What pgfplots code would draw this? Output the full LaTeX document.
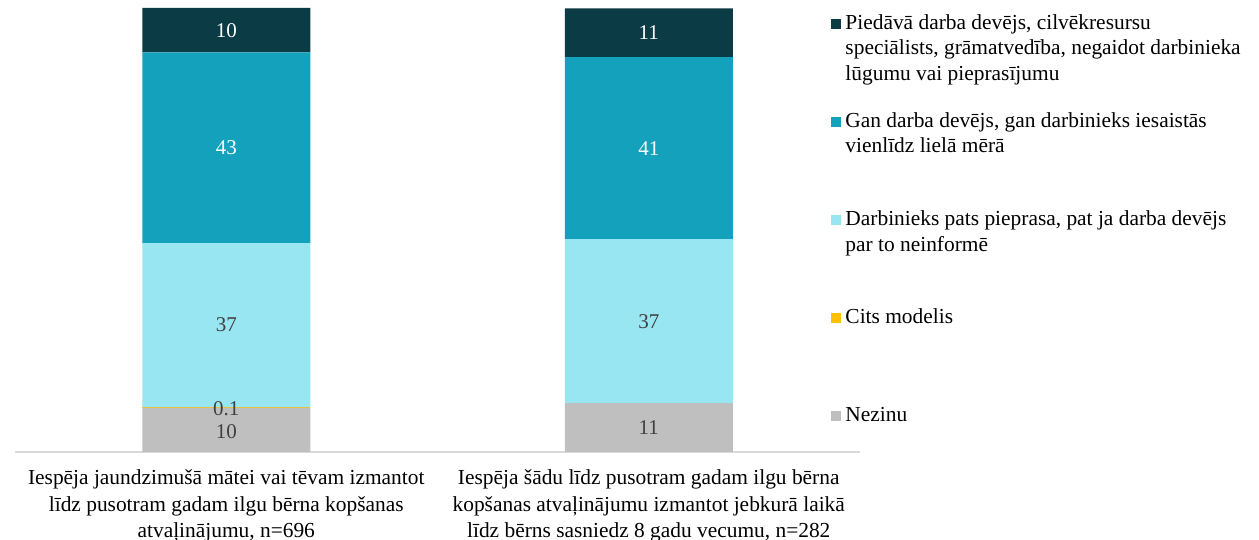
\documentclass[border=0pt]{standalone}
\usepackage{pgfplots}
\pgfplotsset{compat=1.18}
\usepackage{fontspec}
\setmainfont{Liberation Serif}
\definecolor{cDark}{HTML}{0B3C45}
\definecolor{cTeal}{HTML}{13A1BC}
\definecolor{cLight}{HTML}{99E6F3}
\definecolor{cYellow}{HTML}{FFC000}
\definecolor{cGrey}{HTML}{BFBFBF}
\definecolor{cText}{HTML}{404040}
\definecolor{cAxis}{HTML}{D9D9D9}
\pgfplotsset{common/.style={
  scale only axis, width=422.5bp, height=222bp, at={(0,0)}, anchor=south west,
  xmin=-0.5, xmax=1.5, ymin=0, ymax=100.1,
}}
\newcommand{\lent}[1]{\parbox[t]{215bp}{\raggedright #1}}
\begin{document}
\begin{tikzpicture}
\useasboundingbox (-7.5bp,-44bp) rectangle (622bp,226bp);
\begin{axis}[common, ybar stacked, bar width=84bp,
  axis x line*=bottom, hide y axis,
  x axis line style={draw=cAxis, line width=0.7bp, -},
  xtick={0,1}, major tick length=0pt,
  xticklabels={{Iespēja jaundzimušā mātei vai tēvam izmantot\\līdz pusotram gadam ilgu bērna kopšanas\\atvaļinājumu, n=696},{Iespēja šādu līdz pusotram gadam ilgu bērna\\kopšanas atvaļinājumu izmantot jebkurā laikā\\līdz bērns sasniedz 8 gadu vecumu, n=282}},
  xticklabel style={align=center, font=\fontsize{10.7bp}{13.25bp}\selectfont, text=black, yshift=-5.5bp},
  reverse legend,
  legend style={at={(rel axis cs:0.958,1.003)}, anchor=north west, draw=none, fill=none,
    font=\fontsize{10.7bp}{12.8bp}\selectfont, text=black,
    nodes={anchor=base west, inner sep=0pt, text height=9bp, text depth=40.1bp}, row sep=0pt, column sep=2.3bp},
  legend image code/.code={\fill[#1] (0bp,0.2bp) rectangle (5bp,5.2bp);},
]
\addplot[fill=cGrey, draw=none] coordinates {(0,10) (1,11)};
\addlegendentry{\lent{Nezinu}}
\addplot[fill=cYellow, draw=none] coordinates {(0,0.1) (1,0)};
\addlegendentry{\lent{Cits modelis}}
\addplot[fill=cLight, draw=none] coordinates {(0,37) (1,37)};
\addlegendentry{\lent{Darbinieks pats pieprasa, pat ja darba devējs\\par to neinformē}}
\addplot[fill=cTeal, draw=none] coordinates {(0,43) (1,41)};
\addlegendentry{\lent{Gan darba devējs, gan darbinieks iesaistās\\vienlīdz lielā mērā}}
\addplot[fill=cDark, draw=none] coordinates {(0,10) (1,11)};
\addlegendentry{\lent{Piedāvā darba devējs, cilvēkresursu\\speciālists, grāmatvedība, negaidot darbinieka\\lūgumu vai pieprasījumu}}
\end{axis}
\begin{axis}[common, hide axis, clip=false,
  nodes near coords, point meta=explicit symbolic,
  every node near coord/.append style={anchor=center, font=\fontsize{10.5bp}{12bp}\selectfont}]
\addplot[draw=none, mark=none, every node near coord/.append style={text=white}]
  coordinates {(0,95.1) [10] (0,68.6) [43] (1,94.5) [11] (1,68.5) [41]};
\addplot[draw=none, mark=none, every node near coord/.append style={text=cText}]
  coordinates {(0,28.6) [37] (0,9.7) [0.1] (0,4.6) [10] (1,29.5) [37] (1,5.5) [11]};
\end{axis}
\end{tikzpicture}
\end{document}
